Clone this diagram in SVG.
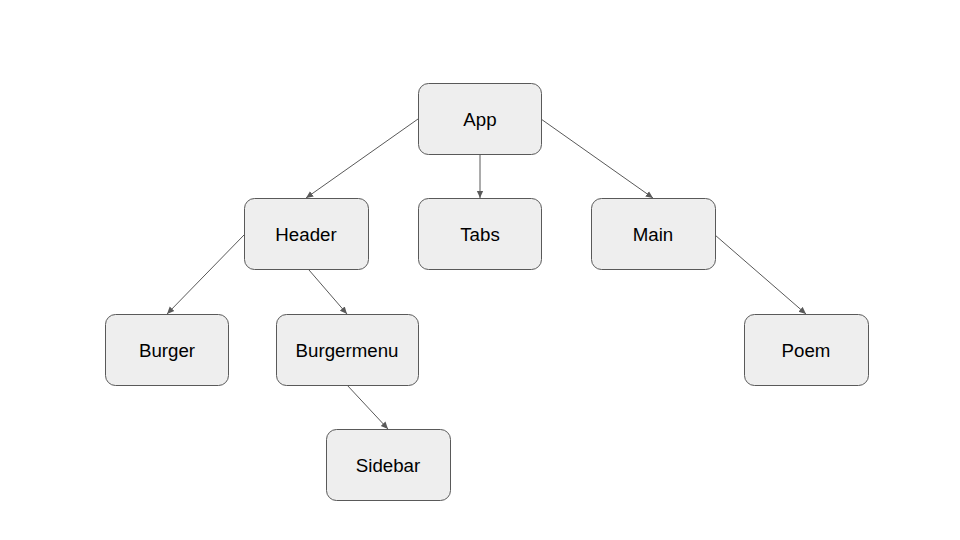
<svg xmlns="http://www.w3.org/2000/svg" width="960" height="540" viewBox="0 0 960 540">
<defs>
<marker id="ah" viewBox="0 0 10 10" refX="9" refY="5" markerWidth="8" markerHeight="8" markerUnits="userSpaceOnUse" orient="auto">
<path d="M0,1 L9,5 L0,9 Z" fill="#595959"/>
</marker>
<style>
.n rect{fill:#eeeeee;stroke:#595959;stroke-width:1}
.n text{font-family:"Liberation Sans",Arial,sans-serif;font-size:18.7px;fill:#000;text-anchor:middle;dominant-baseline:central}
.c line{stroke:#595959;stroke-width:1;marker-end:url(#ah)}
</style>
</defs>
<rect width="960" height="540" fill="#fff"/>
<g id="connectors" class="c">
<line x1="418" y1="119" x2="306" y2="198"/>
<line x1="480" y1="154" x2="480" y2="198"/>
<line x1="541" y1="119" x2="653" y2="198"/>
<line x1="244" y1="235" x2="167" y2="314"/>
<line x1="309" y1="270" x2="347" y2="314"/>
<line x1="715" y1="235" x2="806" y2="314"/>
<line x1="347" y1="385" x2="388" y2="429"/>
</g>
<g id="app" class="n"><rect x="418.5" y="83.5" width="123" height="71" rx="10"/><text x="480" y="119">App</text></g>
<g id="header" class="n"><rect x="244.5" y="198.5" width="124" height="71" rx="10"/><text x="306" y="234.5">Header</text></g>
<g id="tabs" class="n"><rect x="418.5" y="198.5" width="123" height="71" rx="10"/><text x="480" y="234.5">Tabs</text></g>
<g id="main" class="n"><rect x="591.5" y="198.5" width="124" height="71" rx="10"/><text x="653" y="234.5">Main</text></g>
<g id="burger" class="n"><rect x="105.5" y="314.5" width="123" height="71" rx="10"/><text x="167" y="350">Burger</text></g>
<g id="burgermenu" class="n"><rect x="276.5" y="314.5" width="142" height="71" rx="10"/><text x="347" y="350">Burgermenu</text></g>
<g id="poem" class="n"><rect x="744.5" y="314.5" width="124" height="71" rx="10"/><text x="806" y="350">Poem</text></g>
<g id="sidebar" class="n"><rect x="326.5" y="429.5" width="124" height="71" rx="10"/><text x="388" y="465">Sidebar</text></g>
</svg>
